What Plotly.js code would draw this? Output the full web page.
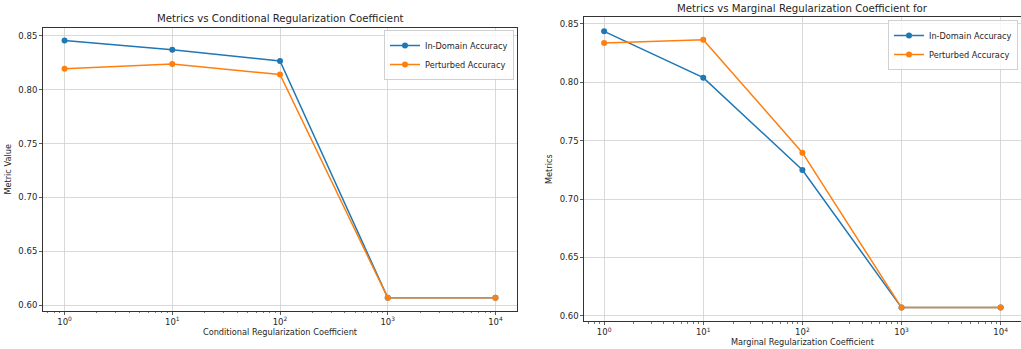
<!DOCTYPE html>
<html>
<head>
<meta charset="utf-8">
<script src="https://cdn.plot.ly/plotly-3.0.1.min.js"></script>
<style>html,body{margin:0;padding:0;background:#fff;}#chart{width:1021px;height:349px;}</style>
</head>
<body>
<div id="chart"></div>
<script>
// Data
const coefficients = [1, 10, 100, 1000, 10000];
const condInDomain = [0.8454, 0.837, 0.8265, 0.607, 0.607];
const condPerturbed = [0.8194, 0.8237, 0.8140, 0.607, 0.607];
const margInDomain = [0.8437, 0.8040, 0.7249, 0.607, 0.607];
const margPerturbed = [0.8337, 0.8364, 0.7397, 0.607, 0.607];
const xTickVals = [1, 10, 100, 1000, 10000];
const xTickText = ['10<sup>0</sup>', '10<sup>1</sup>', '10<sup>2</sup>', '10<sup>3</sup>', '10<sup>4</sup>'];
const yTickVals = [0.60, 0.65, 0.70, 0.75, 0.80, 0.85];
const yTickText = ['0.60', '0.65', '0.70', '0.75', '0.80', '0.85'];
const seriesNames = ['In-Domain Accuracy', 'Perturbed Accuracy'];
const colors = ['#1f77b4', '#ff7f0e'];

const W = 1021, H = 349;
const font = 'DejaVu Sans, sans-serif';
const txt = '#262626';

const minorVals = [];
for (let d = 0.1; d <= 10000; d *= 10) {
  for (let k = 2; k <= 9; k++) {
    const v = Math.round(d * k * 1000) / 1000;
    if (v < 16000 && v > 0.6) minorVals.push(v);
  }
}

function trace(x, y, i, xa, ya, lg) {
  return {
    x: x, y: y, name: seriesNames[i], type: 'scatter', mode: 'lines+markers',
    line: {color: colors[i], width: 1.5},
    marker: {color: colors[i], size: 6},
    xaxis: xa, yaxis: ya, legend: lg
  };
}

const data = [
  trace(coefficients, condInDomain, 0, 'x', 'y', 'legend'),
  trace(coefficients, condPerturbed, 1, 'x', 'y', 'legend'),
  trace(coefficients, margInDomain, 0, 'x2', 'y2', 'legend2'),
  trace(coefficients, margPerturbed, 1, 'x2', 'y2', 'legend2')
];

function xaxis(domain, title, standoff) {
  return {
    type: 'log', domain: domain, range: [-0.2, 4.2],
    tickmode: 'array', tickvals: xTickVals, ticktext: xTickText,
    ticks: 'outside', ticklen: 3, tickcolor: '#333', tickwidth: 0.8,
    tickfont: {family: font, size: 8.5, color: txt},
    showgrid: true, gridcolor: '#d0d0d0', gridwidth: 0.8,
    showline: true, linecolor: '#333', linewidth: 1, mirror: true,
    zeroline: false,
    minor: {tickmode: 'array', tickvals: minorVals, ticks: 'outside', ticklen: 1.5, tickcolor: '#555', showgrid: false},
    title: {text: title, font: {family: font, size: 8.2, color: txt}, standoff: standoff}
  };
}
function yaxis(domain, range, title, anchor, standoff) {
  return {
    domain: domain, range: range, anchor: anchor,
    tickmode: 'array', tickvals: yTickVals, ticktext: yTickText,
    ticks: 'outside', ticklen: 3, tickcolor: '#333', tickwidth: 0.8,
    tickfont: {family: font, size: 8.5, color: txt},
    showgrid: true, gridcolor: '#d0d0d0', gridwidth: 0.8,
    showline: true, linecolor: '#333', linewidth: 1, mirror: true,
    zeroline: false,
    title: {text: title, font: {family: font, size: 8.2, color: txt}, standoff: standoff}
  };
}

const legendBase = {
  bgcolor: 'rgba(255,255,255,0.8)', bordercolor: '#d0d0d0', borderwidth: 1,
  font: {family: font, size: 8.2, color: txt},
  xanchor: 'right', yanchor: 'top', tracegroupgap: 0, itemwidth: 30
};

const layout = {
  width: W, height: H,
  margin: {l: 0, r: 0, t: 0, b: 0},
  paper_bgcolor: '#fff', plot_bgcolor: '#fff',
  showlegend: true,
  xaxis: Object.assign(xaxis([43 / W, 517 / W], 'Conditional Regularization Coefficient', 2), {anchor: 'y'}),
  yaxis: yaxis([1 - 310.7 / H, 1 - 28 / H], [0.595, 0.8571], 'Metric Value', 'x', 5),
  xaxis2: Object.assign(xaxis([584.3 / W, 1020.5 / W], 'Marginal Regularization Coefficient', 2), {anchor: 'y2'}),
  yaxis2: yaxis([1 - 321 / H, 1 - 17.3 / H], [0.5955, 0.8557], 'Metrics', 'x2', 5),
  legend: Object.assign({}, legendBase, {x: 514 / W, y: 1 - 30 / H}),
  legend2: Object.assign({}, legendBase, {x: 1018 / W, y: 1 - 20 / H}),
  annotations: [
    {text: 'Metrics vs Conditional Regularization Coefficient', xref: 'paper', yref: 'paper',
     x: 280 / W, y: 1 - 18 / H, xanchor: 'center', yanchor: 'middle', showarrow: false,
     font: {family: font, size: 10.2, color: txt}},
    {text: 'Metrics vs Marginal Regularization Coefficient for', xref: 'paper', yref: 'paper',
     x: 802 / W, y: 1 - 9 / H, xanchor: 'center', yanchor: 'middle', showarrow: false,
     font: {family: font, size: 10.2, color: txt}}
  ]
};

Plotly.newPlot('chart', data, layout, {displayModeBar: false, staticPlot: true});
</script>
</body>
</html>
